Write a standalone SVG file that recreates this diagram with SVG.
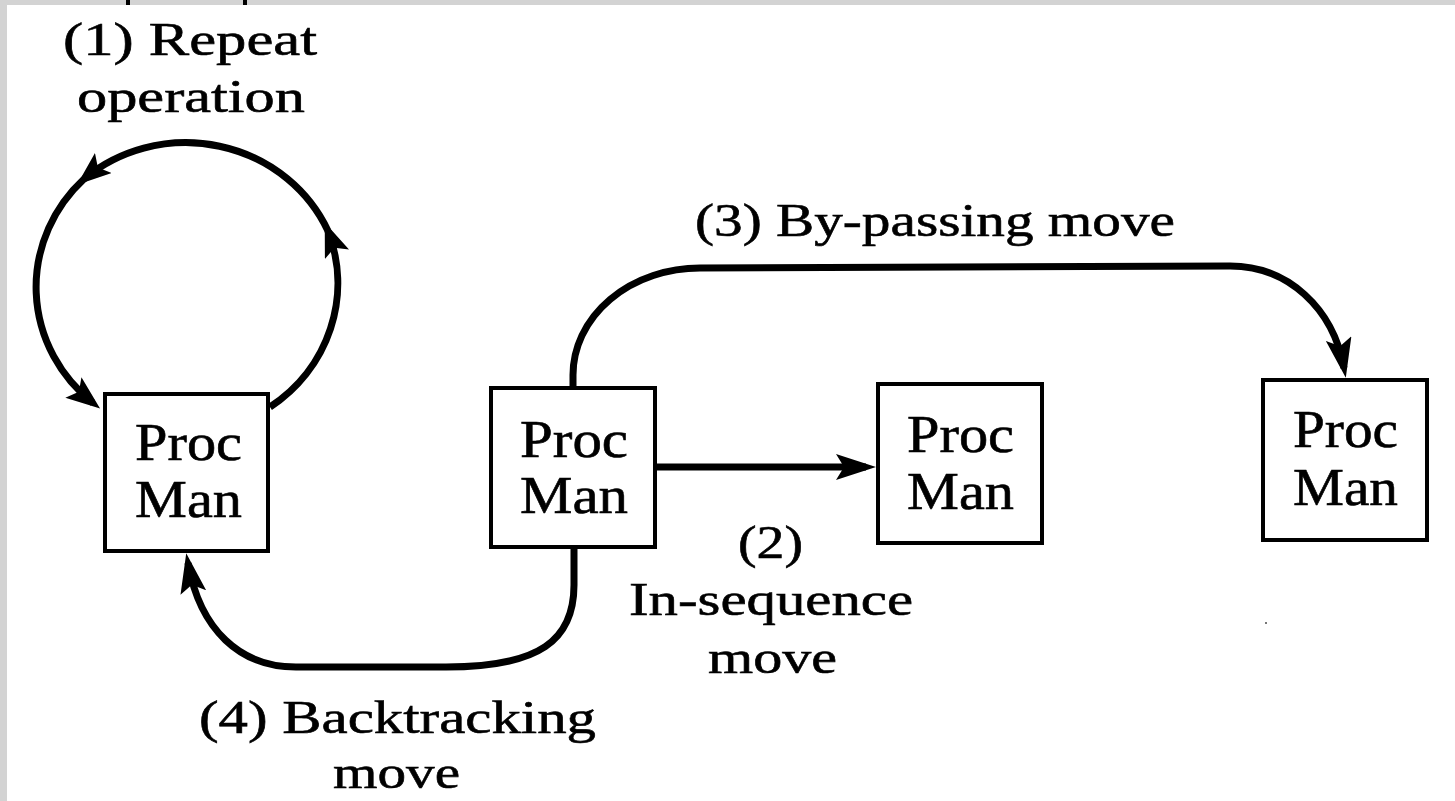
<svg xmlns="http://www.w3.org/2000/svg" width="1455" height="801" viewBox="0 0 1455 801">
<style>
.bg{fill:#d3d3d3}
.box{fill:#ffffff;stroke:#000000;stroke-width:4}
.conn{fill:none;stroke:#000000;stroke-width:7}
.lbl{font-family:"Liberation Serif","Times New Roman",serif;font-size:47px;fill:#000000;stroke:#000000;stroke-width:0.6}
.nt{font-family:"Liberation Serif","Times New Roman",serif;font-size:52px;fill:#000000;stroke:#000000;stroke-width:0.6}
</style>
<defs>
<marker id="arr" viewBox="0 0 40 26" refX="30" refY="13" markerWidth="40" markerHeight="26" markerUnits="userSpaceOnUse" orient="auto">
<path d="M0,0 L40,13 L0,26 L8,13 z" fill="#000000"/>
</marker>
<marker id="arrs" viewBox="0 0 34 26" refX="25" refY="13" markerWidth="34" markerHeight="26" markerUnits="userSpaceOnUse" orient="auto">
<path d="M0,0 L34,13 L0,26 L7,13 z" fill="#000000"/>
</marker>
</defs>
<rect x="0" y="0" width="1455" height="801" fill="#ffffff"/>
<rect class="bg" x="0" y="0" width="1455" height="5"/>
<rect class="bg" x="0" y="0" width="7" height="801"/>
<rect x="126" y="0" width="4" height="5" fill="#000000"/>
<rect x="243" y="0" width="4" height="5" fill="#000000"/>
<rect x="1265" y="622" width="2" height="2" fill="#777777"/>

<g id="connectors">
<path class="conn" d="M270,407 A156,150 0 0 0 328,231" marker-end="url(#arrs)"/>
<path class="conn" d="M328,231 A156,150 0 0 0 84,179" marker-end="url(#arrs)"/>
<path class="conn" d="M84,179 A156,150 0 0 0 93,403" marker-end="url(#arrs)"/>
<path class="conn" d="M657,467 L866,467" marker-end="url(#arr)"/>
<path class="conn" d="M573,388 L573,375 A127,107 0 0 1 700,268 L1230,266 C1288,266 1333,308 1344,368" marker-end="url(#arr)"/>
<path class="conn" d="M574,549 L574,585 C574,640 540,667 446,667 L296,667 C240,667 200,630 188,563" marker-end="url(#arr)"/>
</g>

<g id="node1">
<rect class="box" x="105" y="394" width="163" height="157"/>
<text class="nt" x="135" y="460" textLength="107" lengthAdjust="spacingAndGlyphs">Proc</text>
<text class="nt" x="135" y="517" textLength="107" lengthAdjust="spacingAndGlyphs">Man</text>
</g>
<g id="node2">
<rect class="box" x="491" y="388" width="164" height="159"/>
<text class="nt" x="520" y="457" textLength="108" lengthAdjust="spacingAndGlyphs">Proc</text>
<text class="nt" x="520" y="513" textLength="108" lengthAdjust="spacingAndGlyphs">Man</text>
</g>
<g id="node3">
<rect class="box" x="878" y="384" width="164" height="159"/>
<text class="nt" x="907" y="452" textLength="107" lengthAdjust="spacingAndGlyphs">Proc</text>
<text class="nt" x="907" y="509" textLength="107" lengthAdjust="spacingAndGlyphs">Man</text>
</g>
<g id="node4">
<rect class="box" x="1263" y="380" width="164" height="160"/>
<text class="nt" x="1293" y="447" textLength="105" lengthAdjust="spacingAndGlyphs">Proc</text>
<text class="nt" x="1293" y="505" textLength="105" lengthAdjust="spacingAndGlyphs">Man</text>
</g>

<g id="labels">
<text class="lbl" x="63" y="55" textLength="254" lengthAdjust="spacingAndGlyphs">(1) Repeat</text>
<text class="lbl" x="77" y="112" textLength="228" lengthAdjust="spacingAndGlyphs">operation</text>
<text class="lbl" x="695" y="236" textLength="480" lengthAdjust="spacingAndGlyphs">(3) By-passing move</text>
<text class="lbl" x="738" y="558" textLength="65" lengthAdjust="spacingAndGlyphs">(2)</text>
<text class="lbl" x="629" y="615" textLength="284" lengthAdjust="spacingAndGlyphs">In-sequence</text>
<text class="lbl" x="708" y="673" textLength="129" lengthAdjust="spacingAndGlyphs">move</text>
<text class="lbl" x="199" y="733" textLength="397" lengthAdjust="spacingAndGlyphs">(4) Backtracking</text>
<text class="lbl" x="333" y="788" textLength="127" lengthAdjust="spacingAndGlyphs">move</text>
</g>
</svg>
